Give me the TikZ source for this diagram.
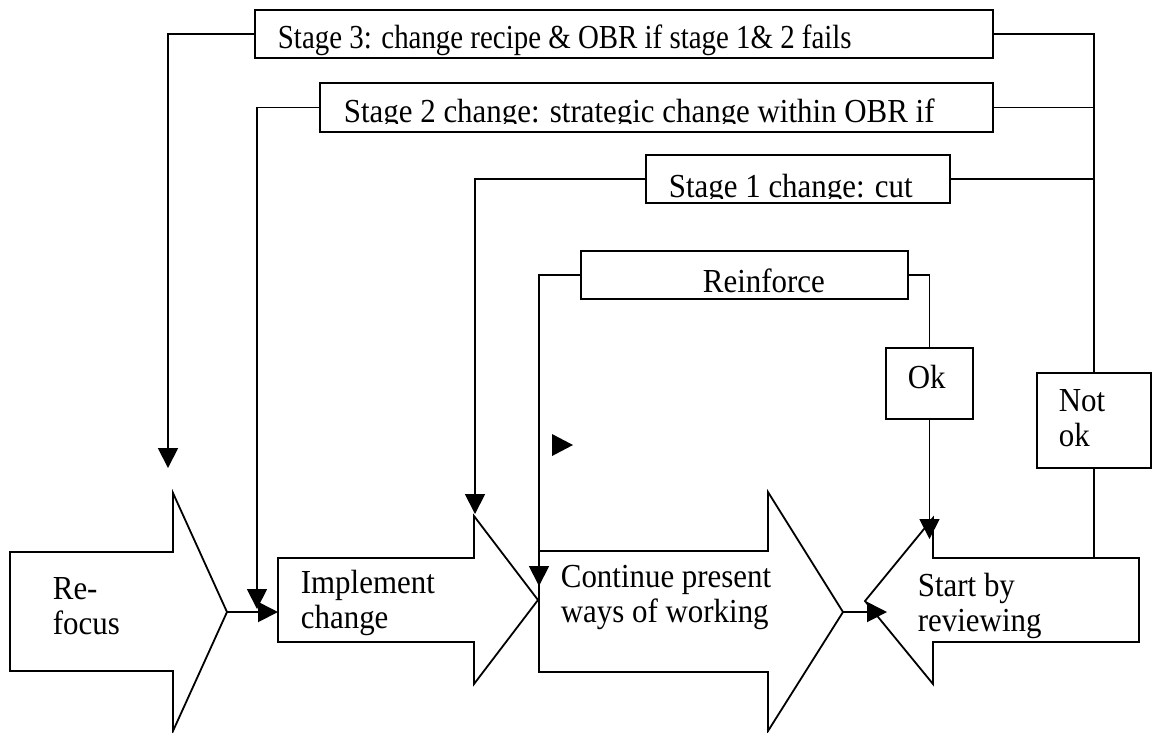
\documentclass[tikz,border=0pt]{standalone}
\usepackage{fontspec}
\setmainfont{Liberation Serif}[FakeStretch=0.92]
\newfontfamily\stagefont{Liberation Serif}[FakeStretch=0.86]
\usetikzlibrary{arrows.meta}

\begin{document}
\begin{tikzpicture}[x=0.25pt, y=-0.25pt, line width=0.45pt,
        every node/.style={inner sep=0pt, font=\fontsize{8.4}{8.75}\selectfont},
        stagebox/.style 2 args={draw, minimum width=#1, minimum height=#2},
        blocktext/.style={anchor=north west, align=left},
        flow/.style={-{Triangle[length=5pt, width=5pt]}}]
    \useasboundingbox (0,0) rectangle (1157,732);
    % feedback boxes
    \node[stagebox={184.5pt}{12pt}] (stage3) at (624,34) {};
    \node[stagebox={168.25pt}{12.25pt}] (stage2) at (656.5,107.5) {};
    \node[stagebox={76pt}{12pt}] (stage1) at (798,179) {};
    \node[stagebox={81.75pt}{12pt}] (reinforce) at (744.5,275) {};
    \node[stagebox={21.75pt}{17.75pt}] (ok) at (929.5,383.5) {};
    \node[stagebox={28.5pt}{23.75pt}] (notok) at (1094,420.5) {};
    \node[anchor=base west, font=\fontsize{8.4}{8.75}\stagefont] (stage3 text) at (277,48) {Stage 3: change recipe \& OBR if stage 1\& 2 fails};
    \begin{scope}
        \clip (320,83) rectangle (993,123);
        \node[anchor=base west] (stage2 text) at (343,122) {Stage 2 change: strategic change within OBR if};
    \end{scope}
    \begin{scope}
        \clip (646,155) rectangle (950,198);
        \node[anchor=base west] (stage1 text) at (668,197) {Stage 1 change: cut};
    \end{scope}
    \begin{scope}
        \clip (581,251) rectangle (908,293);
        \node[anchor=base west] (reinforce text) at (702,292) {Reinforce};
    \end{scope}
    \node[anchor=base west] (ok text) at (907,388) {Ok};
    \node[blocktext] (notok text) at (1058,389) {Not\\ok};

    % block arrows
    \draw (10,552) -- (173,552) -- (173,493) -- (227,612) -- (173,731) -- (173,671) -- (10,671) -- cycle;
    \draw (278,558) -- (474,558) -- (474,516) -- (538,600) -- (474,684) -- (474,642) -- (278,642) -- cycle;
    \draw (539,551) -- (768,551) -- (768,492) -- (843,612) -- (768,731) -- (768,672) -- (539,672) -- cycle;
    \draw (1139,558) -- (933,558) -- (933,518) -- (865,601) -- (933,684) -- (933,642) -- (1139,642) -- cycle;
    \node[blocktext] (refocus text) at (52,577) {Re-\\focus};
    \node[blocktext] (implement text) at (300,569) {Implement\\change};
    \node[blocktext] (continue text) at (560,564) {Continue present\\ways of working};
    \node[blocktext] (start text) at (917,572) {Start by\\reviewing};

    \coordinate (refocus) at (227,612);
    \coordinate (refocus top) at (168,468);
    \coordinate (implement) at (278,612);
    \coordinate (implement top) at (257,609);
    \coordinate (implement head) at (475,514);
    \coordinate (continue) at (843,612);
    \coordinate (continue top) at (539,586);
    \coordinate (start) at (887,612);
    \coordinate (start head) at (931,539);
    \coordinate (start top) at (1094,558);

    % connectors
    \draw[flow] (refocus) -- (implement);
    \draw[flow] (continue) -- (start);
    \draw[flow] (stage3.west) -| (refocus top);
    \draw[flow] (stage2.west) -| (implement top);
    \draw[flow] (stage1.west) -| (implement head);
    \draw[flow] (reinforce.west) -| (continue top);
    \draw (reinforce.east) -| (ok.north);
    \draw[flow] (ok.south) -- (ok.south |- start head);
    \draw (notok.south) -- (start top);
    \draw (stage3.east) -| (notok.north);
    \draw (stage2.east) -- (stage2.east -| notok.north);
    \draw (stage1.east) -- (stage1.east -| notok.north);
    \fill (552,434) -- (573,445) -- (552,456) -- cycle;
\end{tikzpicture}
\end{document}
